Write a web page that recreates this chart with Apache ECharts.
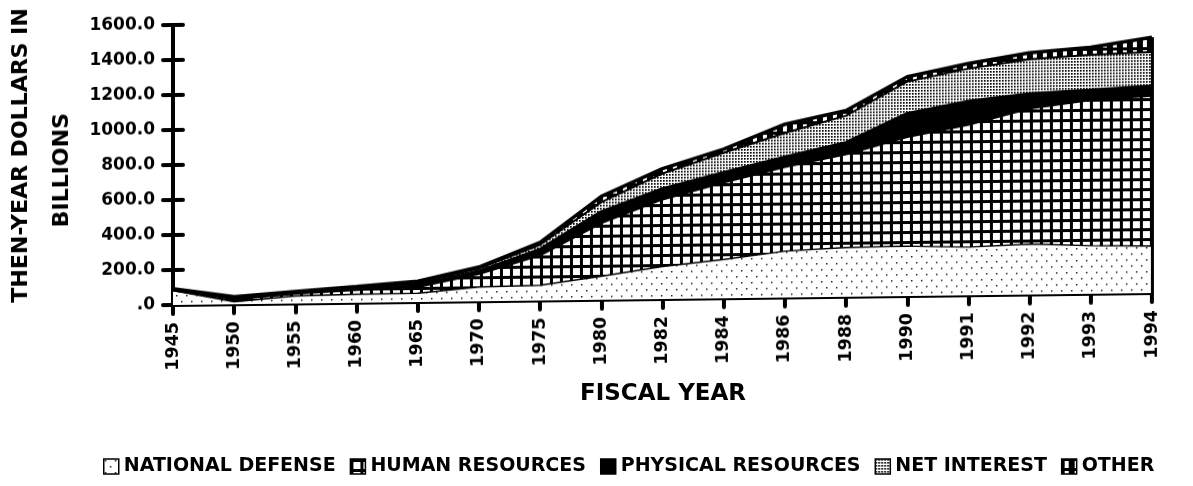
<!DOCTYPE html>
<html>
<head>
<meta charset="utf-8">
<script src="https://cdn.jsdelivr.net/npm/echarts@6/dist/echarts.min.js"></script>
<style>
    html, body {margin: 0; padding: 0; background: #fff;}
    #wrap {position: relative; width: 1193px; height: 486px; overflow: hidden; background: #fff;}
    /* the scanned plot leans: its x axis rises ~12px from 1945 to 1994 */
    #main {position: absolute; left: 0; top: 0; width: 1193px; height: 486px;
        transform-origin: 173px 0; transform: skewY(-0.7deg);}
    #key {position: absolute; left: 0; top: 370px; width: 1193px; height: 116px; pointer-events: none;}
</style>
</head>
<body>
<div id="wrap">
    <div id="main"></div>
    <div id="key"></div>
</div>
<script>
// outlays, billions of then-year dollars
let years = ['1945', '1950', '1955', '1960', '1965', '1970', '1975', '1980', '1982',
    '1984', '1986', '1988', '1990', '1991', '1992', '1993', '1994'];
let defense = [83.0, 13.7, 42.7, 48.1, 50.6, 81.7, 86.5, 134.0, 185.3, 222, 265, 282, 285, 275, 289, 275, 268];
let human = [1.9, 14.2, 14.9, 26.2, 36.6, 75.3, 173.2, 305, 385, 440, 482, 533, 625, 700, 775, 834, 860];
let physical = [1.7, 3.7, 3.0, 8.0, 11.3, 15.6, 35.4, 66, 62, 58, 57, 68, 135, 135, 85, 57, 57];
let netInterest = [3.1, 4.8, 4.9, 6.9, 8.6, 14.4, 23.2, 52.5, 85, 111, 136, 152, 180, 185, 195, 200, 192];
let other = [3.0, 6.2, 2.9, 3.0, 11.1, 8.6, 14.0, 33, 28, 21, 50, 29, 28, 29, 37, 43, 85];

let seriesNames = ['NATIONAL DEFENSE', 'HUMAN RESOURCES', 'PHYSICAL RESOURCES', 'NET INTEREST', 'OTHER'];

let font = 'DejaVu Sans';

// black & white fill patterns like the printed chart
function pattern(w, h, bg, paint) {
    let c = document.createElement('canvas');
    c.width = w;
    c.height = h;
    let ctx = c.getContext('2d');
    ctx.fillStyle = bg;
    ctx.fillRect(0, 0, w, h);
    paint(ctx);
    return {image: c, repeat: 'repeat'};
}

let dotFill = pattern(10, 12, '#fff', function (ctx) {
    ctx.fillStyle = '#222';
    ctx.fillRect(1, 1, 1.5, 1.5);
    ctx.fillRect(6, 7, 1.5, 1.5);
});
let gridFill = pattern(10, 10, '#fff', function (ctx) {
    ctx.fillStyle = '#000';
    ctx.fillRect(0, 0, 10, 3);
    ctx.fillRect(0, 0, 3, 10);
});
let fineFill = pattern(3, 3, '#fff', function (ctx) {
    ctx.fillStyle = '#000';
    ctx.fillRect(0, 0, 1.7, 1.7);
});
let barFill = pattern(10, 10, '#000', function (ctx) {
    ctx.fillStyle = '#fff';
    ctx.fillRect(3, 2, 4, 7);
});
let fills = [dotFill, gridFill, '#000', fineFill, barFill];
let widths = [1.5, 2.5, 2.5, 2, 3.5];

function band(i, values) {
    return {
        name: seriesNames[i],
        type: 'line',
        stack: 'total',
        data: values,
        symbol: 'none',
        showSymbol: false,
        lineStyle: {color: '#000', width: widths[i]},
        itemStyle: {color: fills[i]},
        areaStyle: {color: fills[i], opacity: 1},
        emphasis: {disabled: true},
        silent: true
    };
}

let last = years.length - 1;
let lastYear = years[last];
let lastTotal = defense[last] + human[last] + physical[last] + netInterest[last] + other[last];

let labelStyle = {color: '#000', fontFamily: font, fontWeight: 'bold', fontSize: 17};
let tickStyle = {color: '#000', width: 4, cap: 'round'};
let gridBox = {left: 173, right: 41, top: 25, bottom: 181, outerBoundsMode: 'none', containLabel: false};

let topBand = band(4, other);
topBand.markLine = {
    symbol: 'none',
    silent: true,
    label: {show: false},
    lineStyle: {color: '#000', width: 3, type: 'solid'},
    data: [[{coord: [lastYear, 0]}, {coord: [lastYear, lastTotal]}]]
};

let option = {
    animation: false,
    backgroundColor: '#fff',
    grid: [gridBox, Object.assign({}, gridBox)],
    xAxis: [
        {
            type: 'category',
            data: years,
            boundaryGap: false,
            axisLine: {lineStyle: {color: '#000', width: 4}},
            axisTick: {length: 9, lineStyle: tickStyle},
            axisLabel: Object.assign({}, labelStyle, {rotate: 90, margin: 17, interval: 0, fontSize: 17.5}),
            splitLine: {show: false}
        },
        {
            // second axis only for the inner half of the crossing ticks
            type: 'category',
            gridIndex: 1,
            data: years,
            boundaryGap: false,
            axisLine: {show: false},
            axisTick: {inside: true, length: 5, lineStyle: tickStyle},
            axisLabel: {show: false},
            splitLine: {show: false}
        }
    ],
    yAxis: [
        {
            type: 'value',
            min: 0,
            max: 1600,
            interval: 200,
            axisLine: {show: true, lineStyle: {color: '#000', width: 4}},
            axisTick: {show: true, length: 10, lineStyle: tickStyle},
            splitLine: {show: false},
            axisLabel: Object.assign({
                margin: 18,
                formatter: function (v) {
                    return v === 0 ? '.0' : v.toFixed(1);
                }
            }, labelStyle),
            name: '   THEN-YEAR DOLLARS IN\nBILLIONS ',
            nameLocation: 'middle',
            nameRotate: 90,
            nameGap: 90,
            nameMoveOverlap: false,
            nameTextStyle: {color: '#000', fontFamily: font, fontWeight: 'bold', fontSize: 22, lineHeight: 41}
        },
        {
            type: 'value',
            gridIndex: 1,
            min: 0,
            max: 1600,
            interval: 200,
            axisLine: {show: false},
            axisTick: {show: true, inside: true, length: 10, lineStyle: tickStyle},
            axisLabel: {show: false},
            splitLine: {show: false}
        }
    ],
    series: [
        band(0, defense),
        band(1, human),
        band(2, physical),
        band(3, netInterest),
        topBand
    ]
};

let chart = echarts.init(document.getElementById('main'));
chart.setOption(option);

// axis title and legend are printed level, so they live in their own unskewed chart
let keyOption = {
    animation: false,
    backgroundColor: 'rgba(0,0,0,0)',
    grid: {left: 0, top: 0, width: 1, height: 1, outerBoundsMode: 'none'},
    xAxis: {type: 'category', show: false, data: []},
    yAxis: {type: 'value', show: false},
    graphic: [{
        type: 'text',
        x: 663,
        y: 24,
        style: {
            text: 'FISCAL YEAR',
            fill: '#000',
            font: 'bold 23px "DejaVu Sans"',
            textAlign: 'center',
            textVerticalAlign: 'middle'
        }
    }],
    legend: {
        data: seriesNames,
        left: 98,
        top: 82,
        icon: 'rect',
        itemWidth: 15,
        itemHeight: 15,
        itemGap: 14,
        itemStyle: {borderColor: '#000', borderWidth: 1.5},
        textStyle: {color: '#000', fontFamily: font, fontWeight: 'bold', fontSize: 19},
        selectedMode: false
    },
    series: seriesNames.map(function (n, i) {
        return band(i, []);
    })
};
let key = echarts.init(document.getElementById('key'));
key.setOption(keyOption);
</script>
</body>
</html>
